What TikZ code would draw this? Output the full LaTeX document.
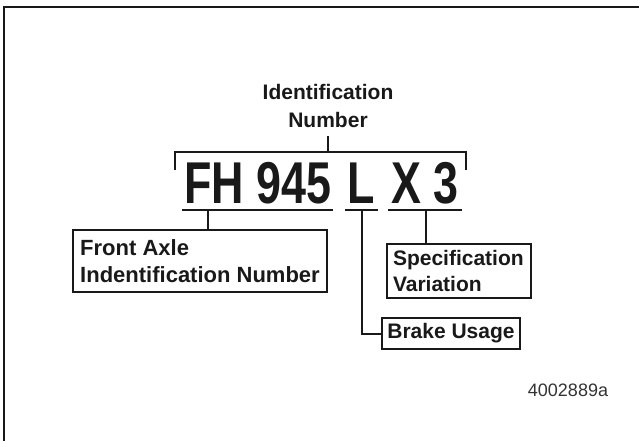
\documentclass[tikz,border=0pt]{standalone}
\usepackage{fontspec}
\setmainfont{Liberation Sans}
\newfontfamily\condbold{Liberation Sans Bold}[FakeStretch=0.76]
\usetikzlibrary{positioning, calc}

\begin{document}
\begin{tikzpicture}[
  x=1pt, y=-1pt,
  every node/.style={inner sep=0pt, text=black!90},
  rule/.style={line width=2pt, black!90},
  labelbox/.style={draw=black!90, line width=2pt, anchor=north west, align=left,
    inner ysep=0pt, font=\bfseries\fontsize{21}{26}\selectfont},
  bigcode/.style={font=\condbold\fontsize{59}{60}\selectfont, anchor=base},
  headlabel/.style={align=center, font=\bfseries\fontsize{21}{28}\selectfont}
]
  \useasboundingbox (0,0) rectangle (639,441);
  % Rahmen (nur oben und links)
  \draw[rule] (3.5,441) -- (3.5,7) -- (639,7);

  % Ueberschrift
  \node[headlabel, anchor=north] (ident) at (328,84) {Identification\\Number};

  % Kennzeichen
  \node[bigcode] (model) at (258,203) {FH 945};
  \node[bigcode] (brk)   at (361,203) {L};
  \node[bigcode] (var)   at (425,203) {X 3};

  % Klammer
  \draw[rule] (175,170) -- (175,152) -- (466,152) -- (466,170);
  \draw[rule] ([yshift=-8pt]ident.south) -- (ident.south |- 0,152);

  % Unterstriche
  \draw[rule] (182,210) -- (333,210);
  \draw[rule] (345,210) -- (378,210);
  \draw[rule] (388,210) -- (462,210);
  \coordinate (umodel) at (208,210);
  \coordinate (ubrk)   at (362,210);
  \coordinate (uvar)   at (426,210);

  % Kaesten
  \node[labelbox, font=\bfseries\fontsize{22}{27}\selectfont,
    minimum width=254pt, minimum height=62pt]
    (front) at (72,229) {Front Axle\\Indentification Number};
  \node[labelbox, inner xsep=6pt, text width=132pt, minimum height=54pt]
    (spec) at (386,243) {Specification\\Variation};
  \node[labelbox, minimum width=138pt, minimum height=31pt]
    (usage) at (381,317) {Brake Usage};

  % Verbindungen
  \draw[rule] (umodel) -- (umodel |- front.north);
  \draw[rule] (uvar) -- (uvar |- spec.north);
  \draw[rule] (ubrk) |- (usage.west);

  % Bildnummer
  \node[font=\fontsize{18}{20}\selectfont, text=black!80] (fig) at (568,390) {4002889a};
\end{tikzpicture}
\end{document}
